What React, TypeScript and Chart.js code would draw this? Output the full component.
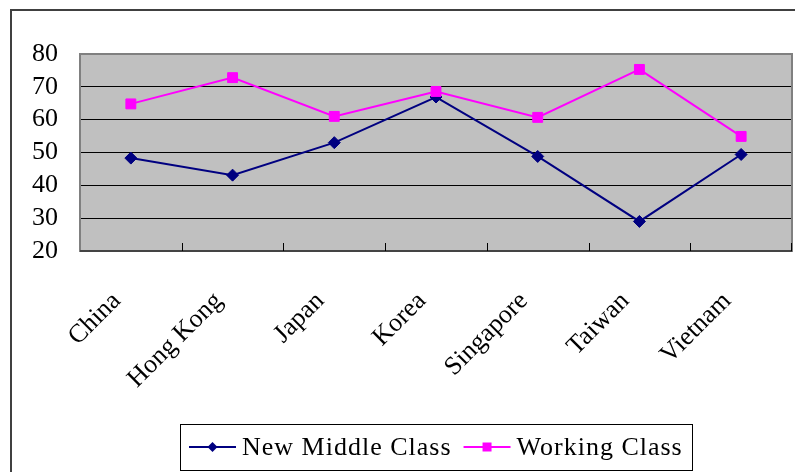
import React, { useEffect, useRef } from 'react';
import { Chart, registerables } from 'chart.js';

Chart.register(...registerables);

const categories = ['China', 'Hong Kong', 'Japan', 'Korea', 'Singapore', 'Taiwan', 'Vietnam'];
const newMiddleClass = [48.3, 43.1, 53.0, 66.9, 48.8, 29.0, 49.4];
const workingClass = [64.8, 72.8, 61.0, 68.6, 60.7, 75.3, 54.9];
const seriesNames = ['New Middle Class', 'Working Class'];
const yMin = 20;
const yMax = 80;
const yStep = 10;

const FONT = '"Liberation Serif", "Times New Roman", serif';
const NAVY = '#000080';
const MAGENTA = '#FF00FF';

const framePlugin = {
  id: 'frame',
  beforeDraw(chart: any) {
    const { ctx, chartArea: a } = chart;
    ctx.save();
    ctx.fillStyle = '#C0C0C0';
    ctx.fillRect(a.left, a.top, a.right - a.left, a.bottom - a.top);
    ctx.restore();
  },
  beforeDatasetsDraw(chart: any) {
    const { ctx, chartArea: a } = chart;
    ctx.save();
    ctx.strokeStyle = '#808080';
    ctx.lineWidth = 2;
    ctx.strokeRect(a.left, a.top, a.right - a.left, a.bottom - a.top);
    ctx.strokeStyle = '#303030';
    ctx.lineWidth = 1.5;
    ctx.beginPath();
    ctx.moveTo(a.left, a.bottom);
    ctx.lineTo(a.right, a.bottom);
    ctx.stroke();
    // inner tick marks at category boundaries
    const xs = chart.scales.x;
    ctx.strokeStyle = '#000';
    ctx.lineWidth = 1;
    for (let i = 1; i <= categories.length; i++) {
      const px = i < categories.length
        ? Math.round((xs.getPixelForTick(i - 1) + xs.getPixelForTick(i)) / 2) + 0.5
        : a.right - 0.5;
      ctx.beginPath();
      ctx.moveTo(px, a.bottom);
      ctx.lineTo(px, a.bottom - 8);
      ctx.stroke();
    }
    ctx.restore();
  },
  afterDraw(chart: any) {
    const { ctx, chartArea: a } = chart;
    ctx.save();
    // outer frame
    ctx.strokeStyle = '#404040';
    ctx.lineWidth = 2;
    ctx.beginPath();
    ctx.moveTo(11, chart.height + 10);
    ctx.lineTo(11, 10);
    ctx.lineTo(chart.width + 10, 10);
    ctx.stroke();

    // legend
    ctx.font = `26px ${FONT}`;
    (ctx as any).letterSpacing = '1px';
    const items = chart.data.datasets.map((ds: any) => ({
      label: ds.label,
      color: ds.borderColor,
      style: ds.pointStyle,
      w: ctx.measureText(ds.label).width,
    }));
    const pad = 9;
    const sample = 47;
    const gapT = 6;
    const gapItem = 12;
    let total = pad * 2 + gapItem * (items.length - 1);
    items.forEach((it: any) => { total += sample + gapT + it.w; });
    const cx = (a.left + a.right) / 2;
    const left = Math.round(cx - total / 2);
    const top = Math.round(a.bottom + 173);
    const h = 46;
    ctx.strokeStyle = '#000';
    ctx.lineWidth = 1;
    ctx.strokeRect(left + 0.5, top + 0.5, Math.round(total), h);
    let x = left + pad;
    const cy = top + 23;
    items.forEach((it: any) => {
      ctx.strokeStyle = it.color;
      ctx.fillStyle = it.color;
      ctx.lineWidth = 2;
      ctx.beginPath();
      ctx.moveTo(x, cy);
      ctx.lineTo(x + sample, cy);
      ctx.stroke();
      const mx = x + sample / 2;
      ctx.beginPath();
      if (it.style === 'rectRot') {
        ctx.moveTo(mx, cy - 5);
        ctx.lineTo(mx + 5, cy);
        ctx.lineTo(mx, cy + 5);
        ctx.lineTo(mx - 5, cy);
        ctx.closePath();
      } else {
        ctx.rect(mx - 4.5, cy - 4.5, 9, 9);
      }
      ctx.fill();
      ctx.fillStyle = '#000';
      ctx.textBaseline = 'alphabetic';
      ctx.textAlign = 'left';
      ctx.fillText(it.label, x + sample + gapT, top + 31);
      x += sample + gapT + it.w + gapItem;
    });
    ctx.restore();
  },
};

export default function App() {
  const ref = useRef<HTMLCanvasElement | null>(null);

  useEffect(() => {
    document.body.style.margin = '0';
    const canvas = ref.current;
    if (!canvas) return;
    const chart = new Chart(canvas, {
      type: 'line',
      data: {
        labels: categories,
        datasets: [
          {
            label: seriesNames[0],
            data: newMiddleClass,
            borderColor: NAVY,
            backgroundColor: NAVY,
            pointBackgroundColor: NAVY,
            pointBorderColor: NAVY,
            pointStyle: 'rectRot',
            pointRadius: 6,
            pointBorderWidth: 1,
            borderWidth: 2,
            tension: 0,
            order: 2,
          },
          {
            label: seriesNames[1],
            data: workingClass,
            borderColor: MAGENTA,
            backgroundColor: MAGENTA,
            pointBackgroundColor: MAGENTA,
            pointBorderColor: MAGENTA,
            pointStyle: 'rect',
            pointRadius: 7,
            pointBorderWidth: 1,
            borderWidth: 2,
            tension: 0,
            order: 1,
          },
        ],
      },
      options: {
        animation: false,
        responsive: false,
        devicePixelRatio: 1,
        layout: { autoPadding: false, padding: { top: 54, right: 3, left: 0, bottom: 0 } },
        plugins: {
          legend: { display: false },
          tooltip: { enabled: false },
        },
        scales: {
          x: {
            type: 'category',
            offset: true,
            grid: { display: false, drawOnChartArea: false, drawTicks: false },
            border: { display: false },
            ticks: {
              font: { family: FONT, size: 26 },
              color: '#000',
              minRotation: 45,
              maxRotation: 45,
              autoSkip: false,
              padding: 35,
              labelOffset: -14,
            },
            afterFit: (s: any) => { s.height = 221; s.paddingRight = 0; s.paddingLeft = 0; },
          },
          y: {
            min: yMin,
            max: yMax,
            ticks: {
              stepSize: yStep,
              autoSkip: false,
              font: { family: FONT, size: 26 },
              color: '#000',
              padding: 22,
            },
            grid: {
              drawTicks: false,
              color: (c: any) => (c.tick && (c.tick.value === yMin || c.tick.value === yMax) ? 'rgba(0,0,0,0)' : '#000'),
              lineWidth: 1,
            },
            border: { display: false },
            afterFit: (s: any) => { s.width = 80; s.paddingTop = 0; s.paddingBottom = 0; },
          },
        },
      },
      plugins: [framePlugin],
    });
    return () => chart.destroy();
  }, []);

  return (
    <div style={{ width: 795, height: 472, position: 'relative' }}>
      <canvas ref={ref} width={795} height={472} style={{ display: 'block' }} />
    </div>
  );
}
